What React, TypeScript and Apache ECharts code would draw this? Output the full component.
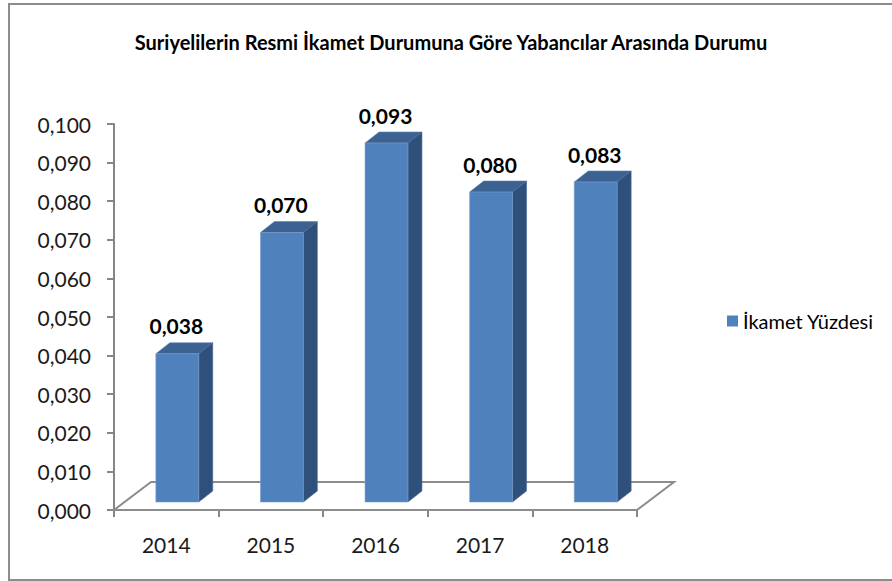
import React, { useEffect, useRef } from "react";
import * as echarts from "echarts";

const categories = ["2014", "2015", "2016", "2017", "2018"];
const values = [0.0384, 0.0698, 0.093, 0.0803, 0.0829];
const seriesName = "İkamet Yüzdesi";
const titleText = "Suriyelilerin Resmi İkamet Durumuna Göre Yabancılar Arasında Durumu";
const yMin = 0;
const yMax = 0.1;
const yInterval = 0.01;

const FONT = "Lato, 'Noto Sans', sans-serif";
const FRONT = "#4F81BD";
const SIDE = "#30507C";
const TOP = "#3C6292";

const fmt = (v: number) => v.toFixed(3).replace(".", ",");

export default function App() {
  const ref = useRef<HTMLDivElement>(null);
  useEffect(() => {
    document.body.style.margin = "0";
    const chart = echarts.init(ref.current!, null, { renderer: "svg" });
    // oblique depth offsets
    const floorDx = 37, floorDy = -28;
    const frontDx = 11, frontDy = -8;
    const barDx = 14, barDy = -11;

    const option: any = {
      animation: false,
      backgroundColor: "#ffffff",
      graphic: [
        {
          type: "rect",
          shape: { x: 9, y: 4, width: 900, height: 576 },
          style: { fill: "none", stroke: "#8c8c8c", lineWidth: 2 },
          z: 0,
        },
        {
          type: "text",
          x: 451,
          y: 42,
          style: {
            text: titleText,
            font: `bold 20px ${FONT}`,
            fill: "#000",
            align: "center",
            verticalAlign: "middle",
          },
        },
      ],
      legend: {
        data: [seriesName],
        left: 722,
        top: 306,
        icon: "rect",
        itemWidth: 11,
        itemHeight: 11,
        itemGap: 5,
        textStyle: { fontFamily: FONT, fontSize: 20, color: "#000" },
      },
      grid: { left: 114, top: 124, width: 523, height: 386, containLabel: false },
      xAxis: {
        type: "category",
        data: categories,
        axisLine: { lineStyle: { color: "#868686", width: 2 } },
        axisTick: { show: true, length: 7, lineStyle: { color: "#868686", width: 2 } },
        axisLabel: { fontFamily: FONT, fontSize: 21, color: "#1a1a1a", margin: 24 },
      },
      yAxis: {
        type: "value",
        min: yMin,
        max: yMax,
        interval: yInterval,
        splitLine: { show: false },
        axisLine: { show: true, lineStyle: { color: "#868686", width: 2 } },
        axisTick: { show: true, length: 7, lineStyle: { color: "#868686", width: 2 } },
        axisLabel: {
          fontFamily: FONT,
          fontSize: 21,
          color: "#1a1a1a",
          margin: 23,
          formatter: (v: number) => fmt(v),
        },
      },
      series: [
        {
          type: "custom",
          name: "floor",
          silent: true,
          z: 1,
          data: [[0, 0]],
          renderItem: (params: any, api: any) => {
            const cs = params.coordSys;
            const x0 = cs.x, x1 = cs.x + cs.width, y0 = cs.y + cs.height;
            return {
              type: "polygon",
              shape: {
                points: [
                  [x0, y0],
                  [x1, y0],
                  [x1 + floorDx, y0 + floorDy],
                  [x0 + floorDx, y0 + floorDy],
                ],
              },
              style: { fill: "none", stroke: "#8c8c8c", lineWidth: 2 },
            };
          },
        },
        {
          type: "custom",
          name: seriesName,
          z: 3,
          itemStyle: { color: FRONT },
          data: values.map((v, i) => [i, v]),
          renderItem: (params: any, api: any) => {
            const idx = api.value(0);
            const v = api.value(1);
            const p0 = api.coord([idx, 0]);
            const p1 = api.coord([idx, v]);
            const band = api.size([1, 0])[0];
            const w = band * 0.41;
            const cx = p0[0] + frontDx;
            const l = cx - w / 2;
            const r = cx + w / 2;
            const b = p0[1] + frontDy;
            const t = p1[1] + frontDy;
            return {
              type: "group",
              children: [
                {
                  type: "polygon",
                  shape: { points: [[l, t], [r, t], [r + barDx, t + barDy], [l + barDx, t + barDy]] },
                  style: { fill: TOP, stroke: "#5a7fae", lineWidth: 0.6 },
                },
                {
                  type: "polygon",
                  shape: { points: [[r, t], [r, b], [r + barDx, b + barDy], [r + barDx, t + barDy]] },
                  style: { fill: SIDE, stroke: "#4a6a96", lineWidth: 0.6 },
                },
                {
                  type: "rect",
                  shape: { x: l, y: t, width: w, height: b - t },
                  style: { fill: FRONT, stroke: "#7a9ccc", lineWidth: 0.6 },
                },
                {
                  type: "text",
                  x: cx - 1,
                  y: t + barDy - 17,
                  style: {
                    text: fmt(v),
                    font: `bold 21px ${FONT}`,
                    fill: "#000",
                    align: "center",
                    verticalAlign: "middle",
                  },
                },
              ],
            };
          },
        },
      ],
    };
    chart.setOption(option);
    return () => chart.dispose();
  }, []);
  return <div ref={ref} style={{ width: 892, height: 581 }} />;
}
